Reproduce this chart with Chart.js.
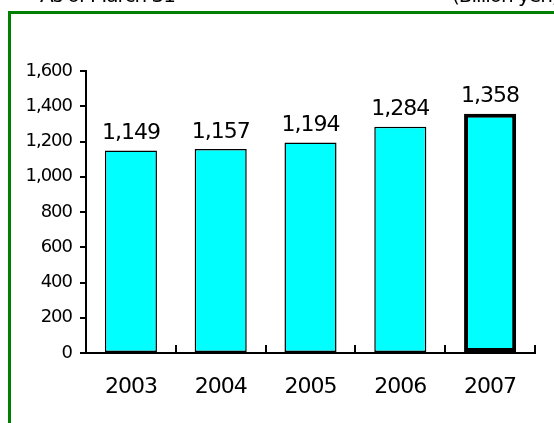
<!DOCTYPE html>
<html>
<head>
<meta charset="utf-8">
<script src="https://cdn.jsdelivr.net/npm/chart.js@4/dist/chart.umd.min.js"></script>
<style>
  html, body { margin: 0; padding: 0; background: #fff; }
  #wrap { width: 554px; height: 423px; }
</style>
</head>
<body>
<div id="wrap"><canvas id="assetsChart"></canvas></div>
<script>
const years = ['2003', '2004', '2005', '2006', '2007'];
const amounts = [1149, 1157, 1194, 1284, 1358];
const yTicks = [0, 200, 400, 600, 800, 1000, 1200, 1400, 1600];
const borderWidths = [1.5, 1.5, 1.5, 1.5, 4];

const FONT = "'DejaVu Sans', sans-serif";
const fmt = v => v.toLocaleString('en-US');

// tight letter spacing like the original
const tightText = {
  id: 'tightText',
  beforeLayout(chart) { chart.ctx.letterSpacing = '-1px'; },
  beforeDraw(chart) { chart.ctx.letterSpacing = '-1px'; }
};

// green frame + header texts cut off at the top
const frame = {
  id: 'frame',
  afterDraw(chart) {
    const ctx = chart.ctx;
    ctx.save();
    ctx.strokeStyle = '#008000';
    ctx.lineWidth = 3;
    ctx.beginPath();
    ctx.moveTo(9.5, chart.height);
    ctx.lineTo(9.5, 12.5);
    ctx.lineTo(chart.width, 12.5);
    ctx.stroke();
    ctx.fillStyle = '#000';
    ctx.font = '20px ' + FONT;
    ctx.textBaseline = 'alphabetic';
    ctx.textAlign = 'left';
    ctx.fillText('As of March 31', 40, 2);
    ctx.fillText('(Billion yen)', 452, 2);
    ctx.restore();
  }
};

// value labels above bars and inward category ticks
const barLabels = {
  id: 'barLabels',
  afterDatasetsDraw(chart) {
    const {ctx, scales: {x}} = chart;
    const meta = chart.getDatasetMeta(0);
    ctx.save();
    ctx.fillStyle = '#000';
    ctx.font = '22px ' + FONT;
    ctx.textAlign = 'center';
    ctx.textBaseline = 'bottom';
    meta.data.forEach((bar, i) => {
      ctx.fillText(fmt(amounts[i]), bar.x, bar.y - 6);
    });
    const half = (x.getPixelForValue(1) - x.getPixelForValue(0)) / 2;
    const yb = chart.chartArea.bottom;
    ctx.strokeStyle = '#000';
    ctx.lineWidth = 2;
    ctx.beginPath();
    years.forEach((_, i) => {
      const bx = Math.round(x.getPixelForValue(i) + half);
      ctx.moveTo(bx, yb);
      ctx.lineTo(bx, yb - 8);
    });
    ctx.stroke();
    ctx.restore();
  }
};

new Chart(document.getElementById('assetsChart'), {
  type: 'bar',
  data: {
    labels: years,
    datasets: [{
      data: amounts,
      backgroundColor: '#00FFFF',
      borderColor: '#000',
      borderWidth: borderWidths,
      borderSkipped: false,
      categoryPercentage: 1,
      barPercentage: 0.58
    }]
  },
  options: {
    responsive: true,
    maintainAspectRatio: false,
    animation: false,
    layout: { padding: { top: 71, right: 19, left: 0, bottom: 0 } },
    plugins: {
      legend: { display: false },
      tooltip: { enabled: false }
    },
    scales: {
      x: {
        grid: { display: false },
        border: { color: '#000', width: 2 },
        ticks: { color: '#000', font: { family: FONT, size: 22 }, padding: 13 },
        afterFit(scale) { scale.height = 70; }
      },
      y: {
        min: 0,
        max: 1600,
        grid: { drawOnChartArea: false, drawTicks: true, tickLength: 6, color: '#000', lineWidth: 2 },
        border: { color: '#000', width: 2 },
        afterBuildTicks(scale) { scale.ticks = yTicks.map(v => ({ value: v })); },
        ticks: {
          color: '#000',
          font: { family: FONT, size: 18 },
          padding: 8,
          callback: v => fmt(v)
        },
        afterFit(scale) { scale.width = 86; }
      }
    }
  },
  plugins: [tightText, frame, barLabels]
});
</script>
</body>
</html>
